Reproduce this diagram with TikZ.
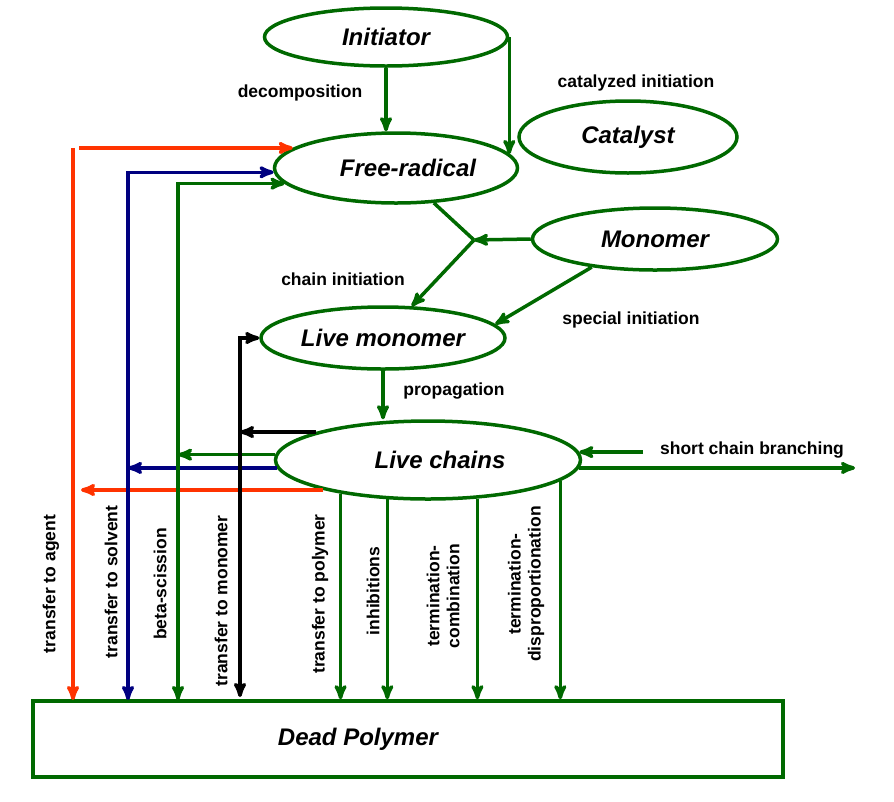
\documentclass[tikz,border=0pt]{standalone}
\usepackage{fontspec}
\setmainfont{Liberation Sans}
\usetikzlibrary{arrows,shapes.geometric}
\definecolor{procgreen}{RGB}{0,105,0}
\definecolor{agentred}{RGB}{255,51,0}
\definecolor{solvblue}{RGB}{0,0,128}

\begin{document}
\begin{tikzpicture}[x=1pt,y=-1pt,->,>=stealth',line width=3.5pt,draw=procgreen,
  main node/.style={ellipse,draw=procgreen,fill=white,inner sep=0pt,
    font=\fontsize{24}{27}\selectfont\bfseries\itshape},
  edge label/.style={font=\fontsize{17.5}{20}\selectfont\bfseries},
  side label/.style={edge label,rotate=90,align=center}]

  \useasboundingbox (0,0) rectangle (894,801);

  \node[main node, minimum width=243pt, minimum height=58pt] (init) at (386,37) {Initiator};
  \node[main node, minimum width=243pt, minimum height=70pt] (rad) at (396,168) {\hspace*{24pt}Free-radical};
  \node[main node, minimum width=218pt, minimum height=72pt] (cat) at (628,137) {Catalyst};
  \node[main node, minimum width=245pt, minimum height=62pt] (mono) at (655,239) {Monomer};
  \node[main node, minimum width=244pt, minimum height=62pt] (lmono) at (383,338) {Live monomer};
  \node[main node, minimum width=305pt, minimum height=78pt] (lchain) at (428,460) {\hspace*{24pt}Live chains};
  \node[draw=procgreen, minimum width=750pt, minimum height=76pt,
    label={[font=\fontsize{24}{27}\selectfont\bfseries\itshape, xshift=-50pt]center:Dead Polymer}]
    (dead) at (408,739) {};

  \coordinate (j) at (474,240);
  \coordinate (ag) at (73,700);
  \coordinate (sv) at (128,700);
  \coordinate (bs) at (178,700);
  \coordinate (mo) at (240,697);
  \coordinate (scbin) at (643,451);
  \coordinate (scbout) at (855,468);

  % initiation
  \draw (init.south) -- (init.south |- rad.north);
  \draw (init.east) -- (init.east |- rad.7);
  \draw[-] (rad) -- (j);
  \draw (mono.west) -- (j);
  \draw (j) -- (lmono.48);
  \draw (mono.204) -- (lmono.7);
  \draw (lmono.south) -- (lmono.south |- lchain.north);

  % transfer loops
  \draw[agentred] (ag |- rad.169) -- (ag);
  \draw[agentred, shorten <=6pt] (ag |- rad.169) -- (rad.169);
  \draw[agentred, shorten >=8pt] (lchain.196) -- (lchain.196 -| ag);
  \draw[solvblue, <->] (rad.182) -- (sv |- rad.182) -- (sv);
  \draw[solvblue] (lchain.183) -- (lchain.183 -| sv);
  \draw[procgreen, <->] (rad.188) -- (bs |- rad.188) -- (bs);
  \draw[procgreen] (lchain.178) -- (lchain.178 -| bs);
  \draw[black, <->] (lmono.west) -- (mo |- lmono.west) -- (mo);
  \draw[black] (lchain.166) -- (lchain.166 -| mo);

  % termination
  \foreach \a in {201,224,-38,-9}
    \draw (lchain.\a) -- (lchain.\a |- dead.north);

  % branching
  \draw (lchain.3 -| scbin) -- (lchain.3);
  \draw (lchain.-3) -- (lchain.-3 -| scbout);

  \node[edge label] at (300,93) {decomposition};
  \node[edge label] at (636,83) {catalyzed initiation};
  \node[edge label] at (343,279) {chain initiation};
  \node[edge label] at (631,320) {special initiation};
  \node[edge label] at (454,391) {propagation};
  \node[edge label] at (752,450) {short chain branching};

  \node[side label] at (51,584) {transfer to agent};
  \node[side label] at (111,582) {transfer to solvent};
  \node[side label] at (160,584) {beta-scission};
  \node[side label] at (221,601) {transfer to monomer};
  \node[side label] at (320,594) {transfer to polymer};
  \node[side label] at (373,591) {inhibitions};
  \node[side label] at (443,596) {termination-\\combination};
  \node[side label] at (526,584) {termination-\\disproportionation};

\end{tikzpicture}
\end{document}
